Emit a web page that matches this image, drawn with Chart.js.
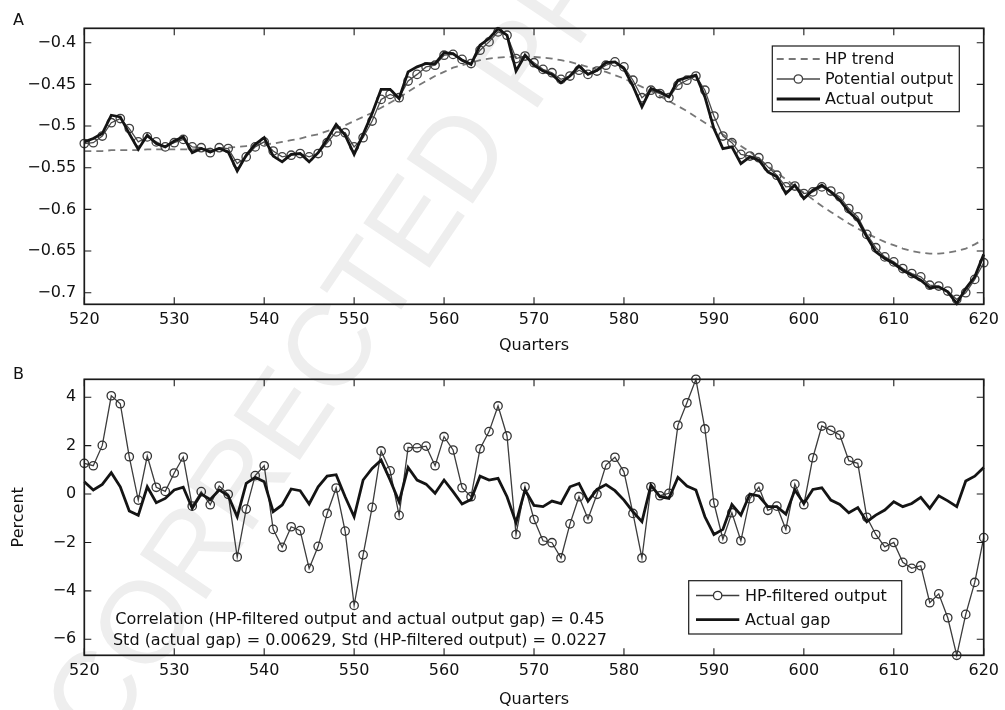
<!DOCTYPE html>
<html>
<head>
<meta charset="utf-8">
<script src="https://cdn.jsdelivr.net/npm/chart.js@4.4.1/dist/chart.umd.min.js"></script>
<style>
  html, body { margin: 0; padding: 0; background: #fff; }
  body { width: 1005px; height: 710px; position: relative; overflow: hidden; }
  #stamp {
    position: absolute; left: 400px; top: 240px;
    transform: translate(-50%, -50%) rotate(-56deg);
    font: 116px "Liberation Sans", Arial, sans-serif;
    color: #eeeeee; white-space: nowrap; line-height: 1; z-index: 0;
  }
  canvas { position: absolute; left: 0; z-index: 1; }
  #panelA { top: 0; width: 1005px; height: 357px; }
  #panelB { top: 357px; width: 1005px; height: 353px; }
</style>
</head>
<body>
<div id="stamp">CORRECTED PROOF</div>
<canvas id="panelA" width="1005" height="357"></canvas>
<canvas id="panelB" width="1005" height="353"></canvas>
<script>
// Quarters on the horizontal axis
const quarters = Array.from({ length: 101 }, (_, i) => 520 + i);

// Panel A: log output levels
const hpTrend = [
  -0.530, -0.530, -0.530, -0.529, -0.529, -0.529, -0.529, -0.528, -0.528, -0.528,
  -0.528, -0.528, -0.528, -0.528, -0.527, -0.527, -0.526, -0.525, -0.524, -0.523,
  -0.522, -0.521, -0.519, -0.517, -0.515, -0.512, -0.510, -0.506, -0.503, -0.499,
  -0.494, -0.489, -0.484, -0.478, -0.472, -0.466, -0.459, -0.452, -0.446, -0.440,
  -0.435, -0.430, -0.427, -0.424, -0.421, -0.419, -0.418, -0.417, -0.417, -0.417,
  -0.417, -0.418, -0.419, -0.421, -0.423, -0.426, -0.429, -0.432, -0.435, -0.439,
  -0.443, -0.448, -0.453, -0.458, -0.464, -0.470, -0.476, -0.482, -0.489, -0.496,
  -0.503, -0.510, -0.517, -0.524, -0.531, -0.540, -0.548, -0.556, -0.564, -0.572,
  -0.580, -0.588, -0.596, -0.603, -0.610, -0.617, -0.623, -0.629, -0.634, -0.639,
  -0.643, -0.647, -0.650, -0.652, -0.653, -0.653, -0.652, -0.650, -0.647, -0.642,
  -0.636
];
const potentialOutput = [
  -0.521, -0.520, -0.512, -0.496, -0.491, -0.503, -0.519, -0.513, -0.519, -0.525,
  -0.520, -0.516, -0.525, -0.526, -0.532, -0.526, -0.527, -0.545, -0.537, -0.525,
  -0.519, -0.530, -0.537, -0.535, -0.533, -0.537, -0.533, -0.520, -0.507, -0.508,
  -0.525, -0.514, -0.494, -0.468, -0.462, -0.466, -0.446, -0.438, -0.429, -0.427,
  -0.415, -0.414, -0.420, -0.425, -0.409, -0.399, -0.387, -0.391, -0.419, -0.416,
  -0.424, -0.432, -0.436, -0.444, -0.440, -0.433, -0.438, -0.434, -0.427, -0.423,
  -0.429, -0.445, -0.466, -0.457, -0.461, -0.466, -0.451, -0.445, -0.440, -0.457,
  -0.488, -0.512, -0.520, -0.534, -0.536, -0.538, -0.549, -0.559, -0.573, -0.572,
  -0.581, -0.579, -0.573, -0.578, -0.585, -0.599, -0.609, -0.630, -0.646, -0.657,
  -0.663, -0.671, -0.677, -0.681, -0.691, -0.692, -0.698, -0.708, -0.700, -0.684,
  -0.664
];
const actualOutput = [
  -0.519, -0.515, -0.509, -0.487, -0.489, -0.509, -0.528, -0.511, -0.521, -0.525,
  -0.518, -0.513, -0.532, -0.527, -0.531, -0.527, -0.531, -0.554, -0.535, -0.522,
  -0.514, -0.536, -0.543, -0.534, -0.533, -0.543, -0.532, -0.516, -0.498, -0.511,
  -0.534, -0.510, -0.485, -0.456, -0.456, -0.467, -0.435, -0.429, -0.425, -0.425,
  -0.412, -0.413, -0.421, -0.426, -0.403, -0.395, -0.383, -0.391, -0.434, -0.415,
  -0.427, -0.434, -0.438, -0.448, -0.440, -0.428, -0.438, -0.433, -0.424, -0.423,
  -0.431, -0.452, -0.477, -0.455, -0.459, -0.465, -0.445, -0.442, -0.439, -0.465,
  -0.503, -0.527, -0.525, -0.545, -0.537, -0.541, -0.555, -0.561, -0.581, -0.571,
  -0.587, -0.577, -0.571, -0.579, -0.589, -0.603, -0.613, -0.633, -0.651, -0.659,
  -0.665, -0.673, -0.679, -0.685, -0.694, -0.693, -0.699, -0.713, -0.695, -0.681,
  -0.654
];

// Panel B: gaps in percent
const hpFilteredOutput = [
  1.27, 1.17, 2.01, 4.06, 3.73, 1.54, -0.25, 1.57, 0.28, 0.11,
  0.87, 1.53, -0.50, 0.10, -0.44, 0.33, -0.01, -2.60, -0.62, 0.76,
  1.17, -1.46, -2.20, -1.35, -1.51, -3.07, -2.16, -0.80, 0.25, -1.53,
  -4.60, -2.51, -0.55, 1.78, 0.96, -0.88, 1.93, 1.91, 1.98, 1.17,
  2.37, 1.82, 0.26, -0.11, 1.87, 2.58, 3.64, 2.40, -1.67, 0.30,
  -1.05, -1.93, -2.01, -2.64, -1.23, -0.11, -1.03, -0.01, 1.20, 1.52,
  0.92, -0.80, -2.64, 0.30, -0.07, 0.03, 2.84, 3.77, 4.74, 2.69,
  -0.37, -1.86, -0.77, -1.93, -0.19, 0.29, -0.67, -0.50, -1.46, 0.41,
  -0.44, 1.50, 2.81, 2.63, 2.44, 1.38, 1.27, -0.96, -1.67, -2.18,
  -2.00, -2.82, -3.07, -2.96, -4.49, -4.12, -5.11, -6.66, -4.97, -3.65,
  -1.80
];
const actualGap = [
  0.51, 0.17, 0.40, 0.88, 0.30, -0.70, -0.88, 0.30, -0.36, -0.18,
  0.17, 0.28, -0.59, 0.00, -0.22, 0.17, -0.07, -0.94, 0.44, 0.69,
  0.51, -0.73, -0.45, 0.21, 0.14, -0.41, 0.30, 0.74, 0.80, -0.11,
  -0.94, 0.58, 1.06, 1.40, 0.58, -0.32, 1.10, 0.58, 0.41, 0.03,
  0.58, 0.10, -0.41, -0.22, 0.74, 0.58, 0.65, -0.11, -1.18, 0.17,
  -0.47, -0.52, -0.29, -0.39, 0.30, 0.44, -0.29, 0.19, 0.39, 0.14,
  -0.25, -0.73, -1.14, 0.37, -0.11, -0.18, 0.69, 0.33, 0.17, -0.94,
  -1.67, -1.46, -0.43, -0.87, 0.00, -0.08, -0.52, -0.52, -0.83, 0.17,
  -0.39, 0.19, 0.26, -0.25, -0.43, -0.77, -0.56, -1.14, -0.87, -0.66,
  -0.32, -0.52, -0.39, -0.14, -0.59, -0.07, -0.28, -0.52, 0.54, 0.74,
  1.10
];

// Tick positions and labels
const xTicks = [520, 530, 540, 550, 560, 570, 580, 590, 600, 610, 620];
const xTickLabels = ['520', '530', '540', '550', '560', '570', '580', '590', '600', '610', '620'];
const yTicksA = [-0.7, -0.65, -0.6, -0.55, -0.5, -0.45, -0.4];
const yTickLabelsA = ['\u22120.7', '\u22120.65', '\u22120.6', '\u22120.55', '\u22120.5', '\u22120.45', '\u22120.4'];
const yTicksB = [-6, -4, -2, 0, 2, 4];
const yTickLabelsB = ['\u22126', '\u22124', '\u22122', '0', '2', '4'];

const statLines = [
  'Correlation (HP-filtered output and actual output gap) = 0.45',
  'Std (actual gap) = 0.00629, Std (HP-filtered output) = 0.0227'
];

const FONT = '"DejaVu Sans", "Liberation Sans", sans-serif';
const INK = '#111';
Chart.defaults.font.family = FONT;
Chart.defaults.font.size = 16;
Chart.defaults.color = INK;

const toPoints = ys => quarters.map((q, i) => ({ x: q, y: ys[i] }));

function fixedTicks(values, labels) {
  return {
    afterBuildTicks: axis => { axis.ticks = values.map(v => ({ value: v })); },
    labelFor: v => {
      const i = values.findIndex(t => Math.abs(t - v) < 1e-9);
      return i >= 0 ? labels[i] : '';
    }
  };
}

// Box around the plot area with inward ticks on all four sides
const axesBox = {
  id: 'axesBox',
  afterDraw(chart) {
    const { ctx, chartArea: a, scales: { x, y } } = chart;
    const L = 7;
    ctx.save();
    ctx.strokeStyle = '#1a1a1a';
    ctx.lineWidth = 1.1;
    ctx.beginPath();
    x.ticks.forEach(t => {
      const px = x.getPixelForValue(t.value);
      ctx.moveTo(px, a.bottom); ctx.lineTo(px, a.bottom - L);
      ctx.moveTo(px, a.top); ctx.lineTo(px, a.top + L);
    });
    y.ticks.forEach(t => {
      const py = y.getPixelForValue(t.value);
      ctx.moveTo(a.left, py); ctx.lineTo(a.left + L, py);
      ctx.moveTo(a.right, py); ctx.lineTo(a.right - L, py);
    });
    ctx.stroke();
    ctx.lineWidth = 1.7;
    ctx.strokeRect(a.left, a.top, a.right - a.left, a.bottom - a.top);
    ctx.restore();
  }
};

// Boxed legend drawn from the datasets' own styles
const boxLegend = {
  id: 'boxLegend',
  afterDraw(chart, args, o) {
    if (!o || !o.box) return;
    const { ctx } = chart;
    const [x0, y0, x1, y1] = o.box;
    ctx.save();
    ctx.fillStyle = '#fff';
    ctx.fillRect(x0, y0, x1 - x0, y1 - y0);
    ctx.strokeStyle = '#1a1a1a';
    ctx.lineWidth = 1.2;
    ctx.strokeRect(x0, y0, x1 - x0, y1 - y0);
    o.rows.forEach(r => {
      const ds = chart.data.datasets[r.dataset];
      ctx.strokeStyle = ds.borderColor;
      ctx.lineWidth = ds.borderWidth;
      ctx.setLineDash(ds.borderDash || []);
      ctx.beginPath();
      ctx.moveTo(o.lineX[0], r.y);
      ctx.lineTo(o.lineX[1], r.y);
      ctx.stroke();
      ctx.setLineDash([]);
      if (ds.pointRadius > 0) {
        ctx.beginPath();
        ctx.arc((o.lineX[0] + o.lineX[1]) / 2, r.y, ds.pointRadius, 0, Math.PI * 2);
        ctx.fillStyle = '#fff';
        ctx.fill();
        ctx.lineWidth = ds.pointBorderWidth;
        ctx.strokeStyle = ds.pointBorderColor;
        ctx.stroke();
      }
      ctx.fillStyle = INK;
      ctx.font = '16px ' + FONT;
      ctx.textAlign = 'left';
      ctx.textBaseline = 'middle';
      ctx.fillText(ds.label, o.textX, r.y + 1);
    });
    ctx.restore();
  }
};

// Panel letter and free text
const panelText = {
  id: 'panelText',
  afterDraw(chart, args, o) {
    if (!o) return;
    const { ctx } = chart;
    ctx.save();
    ctx.fillStyle = INK;
    ctx.textBaseline = 'alphabetic';
    (o.items || []).forEach(it => {
      ctx.font = (it.size || 16) + 'px ' + FONT;
      ctx.textAlign = it.align || 'left';
      ctx.fillText(it.text, it.x, it.y);
    });
    ctx.restore();
  }
};

function makeOptions(cfg) {
  const xt = fixedTicks(xTicks, xTickLabels);
  const yt = fixedTicks(cfg.yTicks, cfg.yLabels);
  return {
    responsive: false,
    animation: false,
    devicePixelRatio: 1,
    events: [],
    layout: { padding: { top: cfg.padTop, right: 15.7, left: 0, bottom: 0 } },
    scales: {
      x: {
        type: 'linear', min: 520, max: 620,
        grid: { display: false, drawTicks: false },
        border: { display: false },
        afterBuildTicks: xt.afterBuildTicks,
        afterFit: s => { s.height = cfg.xHeight; },
        ticks: { padding: 6, maxRotation: 0, autoSkip: false, color: INK, callback: v => xt.labelFor(v) },
        title: { display: true, text: 'Quarters', color: INK, font: { size: 16, lineHeight: 1.2 }, padding: { top: 0, bottom: cfg.xTitlePad } }
      },
      y: {
        min: cfg.yMin, max: cfg.yMax,
        grid: { display: false, drawTicks: false },
        border: { display: false },
        afterBuildTicks: yt.afterBuildTicks,
        afterFit: s => { s.width = 84.3; },
        ticks: { padding: 8, color: INK, callback: v => yt.labelFor(v) },
        title: cfg.yTitle
          ? { display: true, text: cfg.yTitle, color: INK, font: { size: 16, lineHeight: 1.2 }, padding: { top: 9.4, bottom: 0 } }
          : { display: false }
      }
    },
    plugins: {
      legend: { display: false },
      tooltip: { enabled: false },
      boxLegend: cfg.legend,
      panelText: cfg.text
    }
  };
}

new Chart(document.getElementById('panelA'), {
  type: 'line',
  data: {
    datasets: [
      {
        label: 'HP trend', data: toPoints(hpTrend), order: 2, clip: false,
        borderColor: '#777', borderWidth: 1.8, borderDash: [7, 5], pointRadius: 0
      },
      {
        label: 'Potential output', data: toPoints(potentialOutput), order: 1, clip: false,
        borderColor: '#4a4a4a', borderWidth: 1.3,
        pointRadius: 4.2, pointBorderWidth: 1.3, pointBorderColor: '#404040', pointBackgroundColor: 'rgba(0,0,0,0)'
      },
      {
        label: 'Actual output', data: toPoints(actualOutput), order: 0, clip: false,
        borderColor: '#141414', borderWidth: 2.8, pointRadius: 0
      }
    ]
  },
  options: makeOptions({
    padTop: 28.3, xHeight: 52.7, xTitlePad: 1.4,
    yMin: -0.7139, yMax: -0.3827, yTicks: yTicksA, yLabels: yTickLabelsA,
    legend: {
      box: [772.3, 46, 959.3, 111.7], lineX: [776.7, 820], textX: 825,
      rows: [{ dataset: 0, y: 59 }, { dataset: 1, y: 79 }, { dataset: 2, y: 99 }]
    },
    text: { items: [{ text: 'A', x: 13, y: 25 }] }
  }),
  plugins: [axesBox, boxLegend, panelText]
});

new Chart(document.getElementById('panelB'), {
  type: 'line',
  data: {
    datasets: [
      {
        label: 'HP-filtered output', data: toPoints(hpFilteredOutput), order: 1, clip: false,
        borderColor: '#3c3c3c', borderWidth: 1.3,
        pointRadius: 4.2, pointBorderWidth: 1.3, pointBorderColor: '#333', pointBackgroundColor: 'rgba(0,0,0,0)'
      },
      {
        label: 'Actual gap', data: toPoints(actualGap), order: 0, clip: false,
        borderColor: '#141414', borderWidth: 2.8, pointRadius: 0
      }
    ]
  },
  options: makeOptions({
    padTop: 22.3, xHeight: 54.7, xTitlePad: 0.4,
    yMin: -6.66, yMax: 4.74, yTicks: yTicksB, yLabels: yTickLabelsB, yTitle: 'Percent',
    legend: {
      box: [688.7, 223.7, 901.7, 277], lineX: [696, 739.3], textX: 745,
      rows: [{ dataset: 0, y: 238.5 }, { dataset: 1, y: 262.7 }]
    },
    text: {
      items: [
        { text: 'B', x: 13, y: 21.5 },
        { text: statLines[0], x: 360, y: 266.5, align: 'center' },
        { text: statLines[1], x: 360, y: 288, align: 'center' }
      ]
    }
  }),
  plugins: [axesBox, boxLegend, panelText]
});
</script>
</body>
</html>
